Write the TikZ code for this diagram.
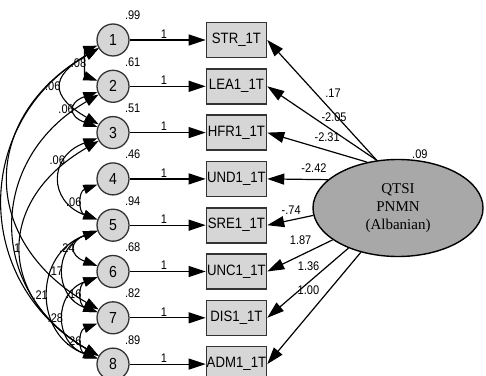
\documentclass[tikz,border=0pt]{standalone}
\usepackage{fontspec}
\setmainfont[FakeStretch=0.88]{Liberation Sans}
\newfontfamily\timesfont{Liberation Serif}
\usetikzlibrary{arrows.meta,positioning,shapes.geometric}
\definecolor{boxgray}{HTML}{D6D6D6}
\definecolor{ellgray}{HTML}{A8A8A8}
\definecolor{edgegray}{HTML}{333333}
\newcommand{\obsname}[1]{\makebox[0pt]{#1}}
\tikzset{
  err/.style    = {circle, draw=edgegray, fill=boxgray, line width=1.3pt,
                   minimum size=32pt, inner sep=0pt, font=\fontsize{16}{16}\selectfont},
  obs/.style    = {rectangle, draw=edgegray, fill=boxgray, line width=1.6pt,
                   minimum width=60pt, minimum height=35pt, inner sep=0pt,
                   font=\fontsize{15}{15}\selectfont},
  factor/.style = {ellipse, draw=black, fill=ellgray, line width=1.4pt,
                   minimum width=170pt, minimum height=97pt, inner sep=0pt,
                   align=center, font=\timesfont\fontsize{15}{18}\selectfont},
  lbl/.style    = {font=\fontsize{12.5}{12.5}\selectfont, inner sep=1pt},
  vlbl/.style   = {lbl, label distance=5pt},
  ar/.style     = {-{Triangle[length=17pt,width=11pt]}, line width=1.2pt},
  cov/.style    = {{Triangle[length=14pt,width=9.5pt]}-{Triangle[length=14pt,width=9.5pt]},
                   line width=1.1pt}
}

\begin{document}
\begin{tikzpicture}[x=1pt, y=1pt, node distance=13pt and 76pt]
    \useasboundingbox (0,0) rectangle (486,375);
    \node[err, label={[vlbl]60:.99}] (e1) at (113,335) {1};
    \node[err, below=of e1, label={[vlbl]60:.61}] (e2) {2};
    \node[err, below=of e2, label={[vlbl]60:.51}] (e3) {3};
    \node[err, below=of e3, label={[vlbl]60:.46}] (e4) {4};
    \node[err, below=of e4, label={[vlbl]60:.94}] (e5) {5};
    \node[err, below=of e5, label={[vlbl]60:.68}] (e6) {6};
    \node[err, below=of e6, label={[vlbl]60:.82}] (e7) {7};
    \node[err, below=of e7, label={[vlbl]60:.89}] (e8) {8};
    \node[obs, right=of e1] (o1) {\obsname{STR\_1T}};
    \node[obs, right=of e2] (o2) {\obsname{LEA1\_1T}};
    \node[obs, right=of e3] (o3) {\obsname{HFR1\_1T}};
    \node[obs, right=of e4] (o4) {\obsname{UND1\_1T}};
    \node[obs, right=of e5] (o5) {\obsname{SRE1\_1T}};
    \node[obs, right=of e6] (o6) {\obsname{UNC1\_1T}};
    \node[obs, right=of e7] (o7) {\obsname{DIS1\_1T}};
    \node[obs, right=of e8] (o8) {\obsname{ADM1\_1T}};
    \node[factor, label={[lbl]75:.09}] (f) at (398,167) {QTSI\\PNMN\\(Albanian)};
    % errors -> indicators
    \draw[ar] (e1) -- node[lbl, above, pos=.45] {1} (o1);
    \draw[ar] (e2) -- node[lbl, above, pos=.45] {1} (o2);
    \draw[ar] (e3) -- node[lbl, above, pos=.45] {1} (o3);
    \draw[ar] (e4) -- node[lbl, above, pos=.45] {1} (o4);
    \draw[ar] (e5) -- node[lbl, above, pos=.45] {1} (o5);
    \draw[ar] (e6) -- node[lbl, above, pos=.45] {1} (o6);
    \draw[ar] (e7) -- node[lbl, above, pos=.45] {1} (o7);
    \draw[ar] (e8) -- node[lbl, above, pos=.45] {1} (o8);
    % factor loadings
    \draw[ar] (f.114) -- (o1.east) node[lbl, pos=.40, yshift=19pt] {.17};
    \draw[ar] (f.114) -- (o2.east) node[lbl, pos=.39, yshift=14pt] {-2.05};
    \draw[ar] (f.124) -- (o3.east) node[lbl, pos=.40, yshift=13pt] {-2.31};
    \draw[ar] (f.158) -- (o4.east) node[lbl, pos=.23, yshift=11pt] {-2.42};
    \draw[ar] (f.185) -- (o5.east) node[lbl, pos=.48, yshift=10pt] {-.74};
    \draw[ar] (f.206) -- (o6.east) node[lbl, pos=.49, yshift=15pt] {1.87};
    \draw[ar] (f.219) -- (o7.east) node[lbl, pos=.49, yshift=16pt] {1.36};
    \draw[ar] (f.230) -- (o8.east) node[lbl, pos=.56, yshift=25pt] {1.00};
    % error covariances
    \draw[cov] (e1) to[out=200, in=160, looseness=1.0] node[lbl, left] {.08} (e2);
    \draw[cov] (e1) to[out=210, in=150, looseness=1.9] node[lbl, left] {.06} (e3);
    \draw[cov] (e2) to[out=200, in=160, looseness=2.3] node[lbl, left] {.06} (e3);
    \draw[cov] (e3) to[out=200, in=160, looseness=1.65] node[lbl, left, pos=.3] {.06} (e5);
    \draw[cov] (e4) to[out=200, in=160, looseness=1.5] node[lbl, left] {.06} (e5);
    \draw[cov] (e5) to[out=200, in=160, looseness=2.2] node[lbl, left] {.24} (e6);
    \draw[cov] (e5) to[out=200, in=160, looseness=1.47] node[lbl, left] {.17} (e7);
    \draw[cov] (e6) to[out=200, in=160, looseness=1.5] node[lbl, left] {.16} (e7);
    \draw[cov] (e6) to[out=200, in=160, looseness=1.47] node[lbl, left] {.28} (e8);
    \draw[cov] (e7) to[out=200, in=160, looseness=1.5] node[lbl, left] {.26} (e8);
    \draw[cov] (e5) to[out=200, in=160, looseness=1.37] node[lbl, left] {.21} (e8);
    \draw[cov] (e1) to[out=210, in=150, looseness=1.22] (e8);
    \draw[cov] (e1) to[out=210, in=150, looseness=1.35] (e7);
    \draw[cov] (e2) to[out=210, in=150, looseness=1.27] (e8);
    \draw[cov] (e3) to[out=210, in=150, looseness=1.41] node[lbl, left] {1} (e8);
\end{tikzpicture}
\end{document}
